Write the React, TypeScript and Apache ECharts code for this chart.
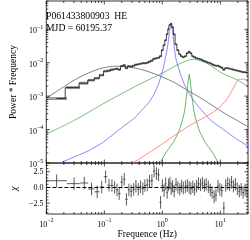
import React, { useEffect, useRef } from 'react';
import * as echarts from 'echarts';

const FONT = '"Liberation Serif", "DejaVu Serif", serif';

// ---- model components (frequency Hz, power*frequency) ----
const grayF = [0.01, 0.0174, 0.0302, 0.0525, 0.0912, 0.158, 0.275, 0.479, 0.832, 1.445, 2.512, 5.25, 10.96, 19.05, 30.8];
const grayP = [8.7e-4, 1.62e-3, 3.0e-3, 4.86e-3, 6.86e-3, 7.87e-3, 7.35e-3, 5.97e-3, 4.24e-3, 2.81e-3, 1.62e-3, 7.6e-4, 3.33e-4, 1.92e-4, 1.19e-4];

const broadF = [0.01, 0.03, 0.1, 0.3, 0.5, 1, 2, 3.4, 6, 10, 14, 20, 30.8];
const broadP = [7.35e-5, 1.86e-4, 6.18e-4, 1.73e-3, 2.71e-3, 4.86e-3, 9.3e-3, 1.27e-2, 9.33e-3, 5.2e-3, 3.95e-3, 3.0e-3, 1.86e-3];

const qpoF = [0.01, 0.0174, 0.0302, 0.0525, 0.0912, 0.1318, 0.2051, 0.3311, 0.4446, 0.5754, 0.6918, 0.832, 1.0, 1.159, 1.247, 1.343, 1.419, 1.5, 1.614, 1.738, 2.089, 2.512, 3.631, 5.25, 6.79, 10.96, 19.05, 31.9];
const qpoP = [5.8e-6, 1e-5, 1.51e-5, 2.28e-5, 3.95e-5, 6.4e-5, 1.19e-4, 2.2e-4, 3.82e-4, 6.18e-4, 1.0e-3, 1.99e-3, 5.2e-3, 1.67e-2, 3.56e-2, 9.33e-2, 0.1315, 9.33e-2, 2.71e-2, 1.19e-2, 4.24e-3, 1.86e-3, 6.62e-4, 3.11e-4, 1.92e-4, 1.04e-4, 5.2e-5, 3.0e-5];

const harmF = [0.8017, 0.929, 1.038, 1.202, 1.556, 1.941, 2.249, 2.421, 2.606, 2.754, 2.911, 3.076, 3.25, 3.5, 3.77, 4.365, 5.445, 7.047, 8.166, 9.12, 10.57];
const harmP = [5.4e-6, 1e-5, 1.51e-5, 2.28e-5, 4.24e-5, 9.0e-5, 2.06e-4, 3.56e-4, 9.33e-4, 2.28e-3, 4.54e-3, 2.28e-3, 9.33e-4, 3.56e-4, 2.06e-4, 9.0e-5, 4.24e-5, 2.28e-5, 1.51e-5, 1e-5, 5.4e-6];

const hfF = [0.158, 0.3076, 0.832, 2.512, 4.06, 7.59, 12.25, 16.87, 21.28, 26.55, 31.9];
const hfP = [5.2e-6, 1e-5, 3.0e-5, 1.11e-4, 1.8e-4, 3.33e-4, 7.1e-4, 1.73e-3, 3.21e-3, 3.21e-3, 2.44e-3];

// ---- data ----
const dataF = [
  0.015, 0.03, 0.045, 0.06, 0.075, 0.09, 0.105, 0.12, 0.135, 0.15,
  0.165, 0.18, 0.2, 0.22, 0.24, 0.265, 0.29, 0.32, 0.35, 0.385,
  0.42, 0.46, 0.5, 0.55, 0.6, 0.66, 0.72, 0.79, 0.86, 0.93,
  1.0, 1.07, 1.14, 1.21, 1.28, 1.35, 1.42, 1.5, 1.6, 1.72,
  1.85, 2.0, 2.15, 2.3, 2.5, 2.7, 2.9, 3.1, 3.35, 3.6,
  3.9, 4.2, 4.55, 4.9, 5.3, 5.7, 6.2, 6.7, 7.2, 7.8,
  8.4, 9.1, 9.8, 10.6, 11.5, 12.4, 13.4, 14.5, 15.6, 16.8,
  18.2, 19.6, 21.2, 22.9, 24.7, 26.7, 28.8,
];
const dataP = [
  8.5e-4, 1.8e-3, 2.44e-3, 3.0e-3, 3.44e-3, 4.24e-3, 5.57e-3, 5.77e-3, 6.18e-3, 6.4e-3,
  6.62e-3, 6.18e-3, 7.87e-3, 8.41e-3, 6.86e-3, 7.87e-3, 7.6e-3, 8.13e-3, 8.71e-3, 9.02e-3,
  9.33e-3, 9.66e-3, 9.66e-3, 1.0e-2, 1.07e-2, 1.15e-2, 1.31e-2, 1.36e-2, 1.41e-2, 1.56e-2,
  2.36e-2, 3.33e-2, 4.7e-2, 7.1e-2, 0.1, 0.136, 0.146, 0.115, 7.1e-2, 3.56e-2,
  2.36e-2, 1.79e-2, 1.56e-2, 1.46e-2, 1.56e-2, 1.92e-2, 2.13e-2, 1.92e-2, 1.56e-2, 1.46e-2,
  1.36e-2, 1.31e-2, 1.27e-2, 1.19e-2, 1.11e-2, 1.07e-2, 1.0e-2, 9.66e-3, 9.02e-3, 8.41e-3,
  8.13e-3, 8.13e-3, 7.6e-3, 7.1e-3, 6.18e-3, 6.86e-3, 6.86e-3, 6.62e-3, 6.4e-3, 6.18e-3,
  5.97e-3, 5.77e-3, 5.57e-3, 5.38e-3, 5.2e-3, 5.2e-3, 5.02e-3,
];
const dataErr = [
  0.07, 0.07, 0.07, 0.06, 0.06, 0.06, 0.06, 0.06, 0.06, 0.05,
  0.05, 0.05, 0.05, 0.05, 0.05, 0.05, 0.05, 0.05, 0.05, 0.05,
  0.05, 0.05, 0.05, 0.05, 0.05, 0.05, 0.05, 0.05, 0.05, 0.05,
  0.04, 0.04, 0.04, 0.04, 0.04, 0.04, 0.04, 0.04, 0.04, 0.04,
  0.04, 0.04, 0.04, 0.04, 0.04, 0.04, 0.04, 0.04, 0.04, 0.04,
  0.04, 0.04, 0.04, 0.04, 0.04, 0.04, 0.04, 0.04, 0.04, 0.04,
  0.04, 0.04, 0.04, 0.04, 0.04, 0.04, 0.04, 0.04, 0.04, 0.04,
  0.04, 0.04, 0.04, 0.04, 0.04, 0.04, 0.04,
];
const resid = [
  1.07, 0.6, 0.7, -0.25, -0.7, 0.05, 1.7, 0.35, 0.3, 0,
  -0.4, -1.0, 0.85, 1.3, -1.9, -0.4, -0.6, -0.3, 0.2, -0.3,
  0.1, -0.2, 0.3, 0.4, 1.0, 1.1, 2.6, 2.2, 2.0, -2.4,
  0.3, -0.5, 0.6, -0.8, 0.4, 0.7, -0.2, 0.2, -0.6, 0.5,
  0.0, -0.3, 0.2, -0.1, 0.1, 0.3, 0.0, -0.2, 0.1, -0.3,
  0.2, 0.6, 0.4, 0.7, 0.3, 0.5, 0.1, -0.4, -0.8, -1.5,
  -1.2, 0.2, -0.3, -0.5, -3.3, 0.3, 0.6, 0.4, 0.8, 0.2,
  0.5, -0.2, -0.6, -0.3, -0.8, -0.4, -0.6,
];

// ---- ticks ----
const xTickValues = [0.01, 0.1, 1, 10];
const powerTickValues = [1e-5, 1e-4, 1e-3, 1e-2, 1e-1];
const residTickValues = [-2.5, 0, 2.5];

const X_MIN = 0.01, X_MAX = 30;
const P_MIN = 1e-5, P_MAX = 0.7;
const R_MIN = -4.25, R_MAX = 3.9;

function logMinor(lo: number, hi: number, majors: number[]) {
  const out: number[][] = [];
  const n0 = Math.floor(Math.log10(lo)), n1 = Math.ceil(Math.log10(hi));
  for (let n = n0; n <= n1; n++) {
    for (let k = 1; k <= 9; k++) {
      const v = Number((k * Math.pow(10, n)).toPrecision(6));
      if (v >= lo * 0.9999 && v <= hi * 1.0001) out.push([v, majors.some((m) => Math.abs(m - v) / m < 1e-6) ? 1 : 0]);
    }
  }
  return out;
}

const powRich = {
  b: { fontFamily: FONT, fontSize: 8, color: '#000', verticalAlign: 'bottom', lineHeight: 11 },
  s: { fontFamily: FONT, fontSize: 6, color: '#000', verticalAlign: 'top', lineHeight: 11 },
};
function powLabel(v: number) {
  const e = Math.round(Math.log10(v));
  return `{b|10}{s|${e < 0 ? '\u2212' + -e : e}}`;
}

export default function App() {
  const ref = useRef<HTMLDivElement>(null);
  useEffect(() => {
    document.body.style.margin = '0';
    const chart = echarts.init(ref.current!, null, { renderer: 'svg' });

    const edges = dataF.map((f, i) => {
      const prev = i > 0 ? dataF[i - 1] : f - (dataF[1] - dataF[0]);
      const next = i < dataF.length - 1 ? dataF[i + 1] : f + (f - dataF[i - 1]);
      return [(prev + f) / 2, (f + next) / 2];
    });

    const lineS = (F: number[], P: number[], color: string, smooth: number | boolean) => ({
      type: 'line', xAxisIndex: 0, yAxisIndex: 0,
      data: F.map((f, i) => [f, P[i]]),
      showSymbol: false, symbol: 'none', smooth, clip: true, silent: true,
      lineStyle: { color, width: 0.8 },
    });

    const tickSeries = (gi: number, dim: 'x' | 'y', items: number[][], refVal: number) => ({
      type: 'custom', xAxisIndex: gi, yAxisIndex: gi, silent: true, z: 10,
      data: items.map(([v, m]) => (dim === 'x' ? [v, refVal, m] : [refVal, v, m])),
      encode: { x: 0, y: 1 },
      renderItem: (params: any, api: any) => {
        const cs = params.coordSys;
        const p = api.coord([api.value(0), api.value(1)]);
        const len = api.value(2) ? 3.5 : 2;
        const st = { stroke: '#000', lineWidth: 0.7 };
        if (dim === 'x') {
          return { type: 'group', children: [
            { type: 'line', shape: { x1: p[0], y1: cs.y + cs.height, x2: p[0], y2: cs.y + cs.height - len }, style: st },
            { type: 'line', shape: { x1: p[0], y1: cs.y, x2: p[0], y2: cs.y + len }, style: st },
          ] };
        }
        return { type: 'group', children: [
          { type: 'line', shape: { x1: cs.x, y1: p[1], x2: cs.x + len, y2: p[1] }, style: st },
          { type: 'line', shape: { x1: cs.x + cs.width, y1: p[1], x2: cs.x + cs.width - len, y2: p[1] }, style: st },
        ] };
      },
    });

    const xMinor = logMinor(X_MIN, X_MAX, xTickValues);
    const pMinor = logMinor(P_MIN, P_MAX, powerTickValues);
    const rItems: number[][] = [];
    for (let v = -4; v <= 3.5001; v += 0.5) {
      const vv = Math.round(v * 10) / 10;
      rItems.push([vv, residTickValues.includes(vv) ? 1 : 0]);
    }

    const textStyle = { fontFamily: FONT, color: '#000' };

    chart.setOption({
      animation: false,
      grid: [
        { left: 30, right: 2, top: 1, height: 162, show: true, borderColor: '#000', borderWidth: 0.8, backgroundColor: 'transparent' },
        { left: 30, right: 2, top: 163, height: 55, show: true, borderColor: '#000', borderWidth: 0.8, backgroundColor: 'transparent' },
      ],
      xAxis: [
        { gridIndex: 0, type: 'log', logBase: 10, min: X_MIN, max: X_MAX, axisLine: { show: false }, axisTick: { show: false }, axisLabel: { show: false }, splitLine: { show: false } },
        {
          gridIndex: 1, type: 'log', logBase: 10, min: X_MIN, max: X_MAX, axisLine: { show: false }, axisTick: { show: false }, splitLine: { show: false },
          axisLabel: { show: true, customValues: xTickValues, formatter: powLabel, rich: powRich, margin: 3, showMinLabel: true, showMaxLabel: true },
          name: 'Frequence (Hz)', nameLocation: 'middle', nameGap: 15,
          nameTextStyle: { ...textStyle, fontSize: 9.5 },
        },
      ],
      yAxis: [
        {
          gridIndex: 0, type: 'log', logBase: 10, min: P_MIN, max: P_MAX, axisLine: { show: false }, axisTick: { show: false }, splitLine: { show: false },
          axisLabel: { show: true, customValues: powerTickValues, formatter: powLabel, rich: powRich, margin: 3 },
          name: 'Power * Frequency', nameLocation: 'middle', nameGap: 22,
          nameTextStyle: { ...textStyle, fontSize: 9.5 },
        },
        {
          gridIndex: 1, type: 'value', min: R_MIN, max: R_MAX, axisLine: { show: false }, axisTick: { show: false }, splitLine: { show: false },
          axisLabel: {
            show: true, customValues: residTickValues, margin: 3, fontFamily: FONT, fontSize: 8, color: '#000',
            formatter: (v: number) => (v < 0 ? '\u2212' : '') + Math.abs(v).toFixed(1),
          },
          name: '\u03c7', nameLocation: 'middle', nameGap: 22,
          nameTextStyle: { ...textStyle, fontSize: 10, fontStyle: 'italic' },
        },
      ],
      graphic: [
        { type: 'text', left: 46, top: 10, style: { text: 'P061433800903  HE', font: '9.7px "Liberation Serif"', fill: '#000' } },
        { type: 'text', left: 46, top: 22, style: { text: 'MJD = 60195.37', font: '9.7px "Liberation Serif"', fill: '#000' } },
      ],
      series: [
        lineS(grayF, grayP, '#606060', 0.3),
        lineS(broadF, broadP, '#55b055', 0.3),
        lineS(qpoF, qpoP, '#6464ff', 0.15),
        lineS(harmF, harmP, '#3aa03a', 0.1),
        lineS(hfF, hfP, '#ff6e6e', 0.3),
        {
          type: 'custom', xAxisIndex: 0, yAxisIndex: 0, clip: true, silent: true, z: 4,
          data: dataF.map((f, i) => [f, dataP[i], dataP[i] * (1 - dataErr[i]), dataP[i] * (1 + dataErr[i]), edges[i][0], edges[i][1]]),
          encode: { x: 0, y: 1 },
          renderItem: (params: any, api: any) => {
            const p1 = api.coord([api.value(4), api.value(3)]);
            const p2 = api.coord([api.value(5), api.value(2)]);
            return {
              type: 'rect',
              shape: { x: p1[0], y: p1[1], width: p2[0] - p1[0], height: Math.max(p2[1] - p1[1], 0.8) },
              style: { fill: '#aaaaaa', stroke: '#333', lineWidth: 0.4 },
            };
          },
        },
        {
          type: 'line', xAxisIndex: 0, yAxisIndex: 0, step: 'middle', silent: true, z: 5,
          data: dataF.map((f, i) => [f, dataP[i]]),
          showSymbol: false, symbol: 'none', clip: true,
          lineStyle: { color: '#111', width: 0.8 },
        },
        {
          type: 'custom', xAxisIndex: 1, yAxisIndex: 1, clip: true, silent: true, z: 4,
          data: dataF.map((f, i) => [f, resid[i], edges[i][0], edges[i][1]]),
          encode: { x: 0, y: 1 },
          renderItem: (params: any, api: any) => {
            const c = api.coord([api.value(0), api.value(1)]);
            const t = api.coord([api.value(0), api.value(1) + 1]);
            const b = api.coord([api.value(0), api.value(1) - 1]);
            const l = api.coord([api.value(2), api.value(1)]);
            const r = api.coord([api.value(3), api.value(1)]);
            const st = { stroke: '#333', lineWidth: 0.8 };
            return { type: 'group', children: [
              { type: 'line', shape: { x1: c[0], y1: t[1], x2: c[0], y2: b[1] }, style: st },
              { type: 'line', shape: { x1: l[0], y1: c[1], x2: r[0], y2: c[1] }, style: st },
            ] };
          },
          markLine: {
            silent: true, symbol: 'none', label: { show: false },
            lineStyle: { color: '#000', type: [4, 2], width: 1 },
            data: [{ yAxis: 0 }],
          },
        },
        tickSeries(0, 'x', xMinor, 1e-3),
        tickSeries(0, 'y', pMinor, 1),
        tickSeries(1, 'x', xMinor, 0),
        tickSeries(1, 'y', rItems, 1),
      ],
    });
    return () => chart.dispose();
  }, []);
  return <div ref={ref} style={{ width: 250, height: 240, position: 'fixed', left: 0, top: 0 }} />;
}
